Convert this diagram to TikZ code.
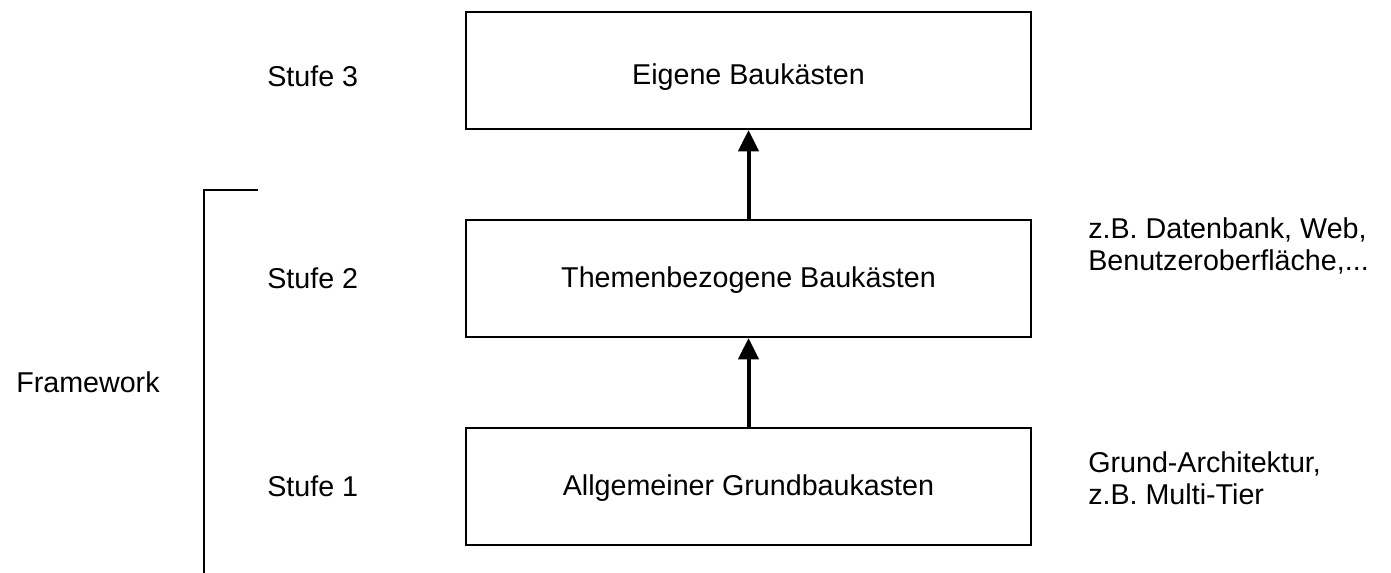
\documentclass[tikz,border=0pt]{standalone}
\usepackage{fontspec}
\setmainfont{Liberation Sans}
\usetikzlibrary{arrows.meta}
\begin{document}
\begin{tikzpicture}[x=0.75pt,y=-0.75pt,
  every node/.style={font=\fontsize{21.5}{24}\selectfont, inner sep=0pt},
  box/.style={draw, line width=1.5pt, minimum width=423.75pt, minimum height=87.75pt, anchor=center},
  boxtext/.style={anchor=center},
  label/.style={anchor=west},
  note/.style={anchor=west, align=left, font=\fontsize{21.5}{24}\selectfont},
  uparrow/.style={line width=3pt, -{Triangle[width=15pt,length=16pt]}},
  bracket/.style={line width=1.5pt}]
\useasboundingbox (0,0) rectangle (1391,572);
\node[box] (b3) at (748.5,70.5) {};
\node[box] (b2) at (748.5,278.5) {};
\node[box] (b1) at (748.5,486.5) {};
\node[boxtext] (t3) at (748.5,77) {Eigene Baukästen};
\node[boxtext] (t2) at (748.5,280) {Themenbezogene Baukästen};
\node[boxtext] (t1) at (748.5,488) {Allgemeiner Grundbaukasten};
\node[label] (s3) at (267,76) {Stufe 3};
\node[label] (s2) at (267,278) {Stufe 2};
\node[label] (s1) at (267,486) {Stufe 1};
\node[label] (fw) at (16,382) {Framework};
\node[note] (n2) at (1088,246) {z.B. Datenbank, Web,\\Benutzeroberfläche,...};
\node[note] (n1) at (1088,478) {Grund-Architektur,\\z.B. Multi-Tier};
\coordinate (bt) at (258,190);
\coordinate (bc) at (204,190);
\coordinate (bb) at (204,573);
\draw[bracket] (bt) -- (bc) -- (bb);
\draw[uparrow] (b2.north) -- (b3.south);
\draw[uparrow] (b1.north) -- (b2.south);
\end{tikzpicture}
\end{document}
